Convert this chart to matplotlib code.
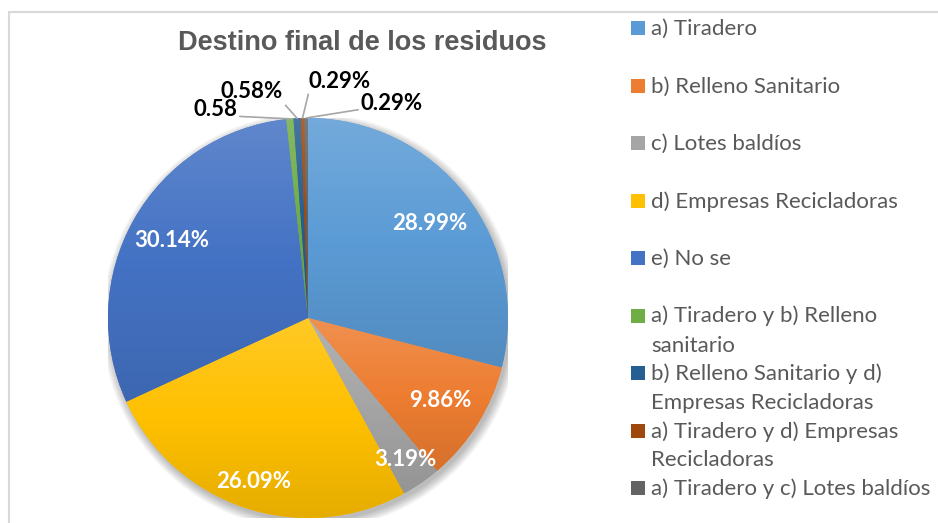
import matplotlib
matplotlib.use("Agg")
import matplotlib.pyplot as plt
import numpy as np
from matplotlib.colors import LinearSegmentedColormap, to_rgb
from matplotlib.patches import Circle, Rectangle

# data
categories = [
    "a) Tiradero",
    "b) Relleno Sanitario",
    "c) Lotes baldíos",
    "d) Empresas Recicladoras",
    "e) No se",
    "a) Tiradero y b) Relleno\nsanitario",
    "b) Relleno Sanitario y d)\nEmpresas Recicladoras",
    "a) Tiradero y d) Empresas\nRecicladoras",
    "a) Tiradero y c) Lotes baldíos",
]
percentages = [28.99, 9.86, 3.19, 26.09, 30.14, 0.58, 0.58, 0.29, 0.29]
value_labels = ["28.99%", "9.86%", "3.19%", "26.09%", "30.14%", "0.58", "0.58%", "0.29%", "0.29%"]
colors = ["#5B9BD5", "#ED7D31", "#A5A5A5", "#FFC000", "#4472C4",
          "#70AD47", "#255E91", "#9E480E", "#636363"]

W, H = 938, 523
GRAY_TEXT = "#595959"


def px(x, y):
    # pixel position (from top-left) -> figure fraction
    return x / W, 1 - y / H


def shade(c, f):
    r, g, b = to_rgb(c)
    if f > 1:
        t = f - 1
        return (r + (1 - r) * t, g + (1 - g) * t, b + (1 - b) * t)
    return (r * f, g * f, b * f)


fig = plt.figure(figsize=(W / 100, H / 100), dpi=100)

# chart area border
x0, y0 = px(9, 12)
fig.add_artist(Rectangle((x0, -0.05), 1.2, y0 + 0.05, transform=fig.transFigure,
                         fill=False, edgecolor="#D9D9D9", linewidth=1.5))

fig.text(*px(362, 43), "Destino final de los residuos", ha="center", va="center",
         fontsize=19.5, fontweight="bold", family="Liberation Sans", color=GRAY_TEXT)

ax = fig.add_axes([108 / W, 1 - 518 / H, 400 / W, 400 / H])

# soft shadow under the pie
for k in range(8):
    ax.add_patch(Circle((0.012, -0.018), 1.0 + 0.006 * k, color="black",
                        alpha=0.035, linewidth=0, zorder=0))

wedges, _ = ax.pie(percentages, colors=colors, startangle=90, counterclock=False,
                   radius=1, wedgeprops=dict(linewidth=0))

# gradient fill per slice (lighter at top, darker at bottom)
grad = np.linspace(0, 1, 256).reshape(-1, 1)
for w, c in zip(wedges, colors):
    ext = w.get_path().get_extents()
    cmap = LinearSegmentedColormap.from_list("g", [shade(c, 0.9), c, shade(c, 1.15)])
    im = ax.imshow(grad, extent=[ext.x0, ext.x1, ext.y0, ext.y1], origin="lower",
                   cmap=cmap, aspect="auto", interpolation="bilinear", zorder=1)
    im.set_clip_path(w)

ax.set_xlim(-1, 1)
ax.set_ylim(-1, 1)
ax.set_aspect("equal")
ax.axis("off")

# labels inside the big slices
inside_dist = [0.77, 0.78, 0.86, 0.86, 0.785]
for w, lab, d in zip(wedges[:5], value_labels[:5], inside_dist):
    ang = np.deg2rad((w.theta1 + w.theta2) / 2)
    ax.text(d * np.cos(ang), d * np.sin(ang), lab, ha="center", va="center",
            color="white", fontsize=16, fontweight="bold", family="Lato", zorder=5)

# small slices with leader lines
outside_pos = [(-0.465, 1.04), (-0.28, 1.13), (0.16, 1.185), (0.42, 1.075)]
rel_pos = [(1, 0.2), (1, 0.0), (0, 0.0), (0, 0.2)]
for w, lab, pos, rp in zip(wedges[5:], value_labels[5:], outside_pos, rel_pos):
    ang = np.deg2rad((w.theta1 + w.theta2) / 2)
    ax.annotate(lab, xy=(np.cos(ang), np.sin(ang)), xytext=pos, ha="center", va="center",
                fontsize=16, fontweight="bold", family="Lato", color="black",
                annotation_clip=False,
                arrowprops=dict(arrowstyle="-", color="#A6A6A6", lw=1.2, relpos=rp,
                                shrinkA=0, shrinkB=0))

# legend on the right
for i, (lab, c) in enumerate(zip(categories, colors)):
    yc = 28 + i * 57.5
    fig.add_artist(Rectangle(px(631, yc + 7), 14 / W, 14 / H, transform=fig.transFigure,
                             facecolor=c, edgecolor="none"))
    for j, line in enumerate(lab.split("\n")):
        fig.text(*px(651, yc + 7 + j * 29), line, ha="left", va="baseline",
                 fontsize=16, family="Lato", color=GRAY_TEXT)

fig.savefig("out.png", dpi=100)
